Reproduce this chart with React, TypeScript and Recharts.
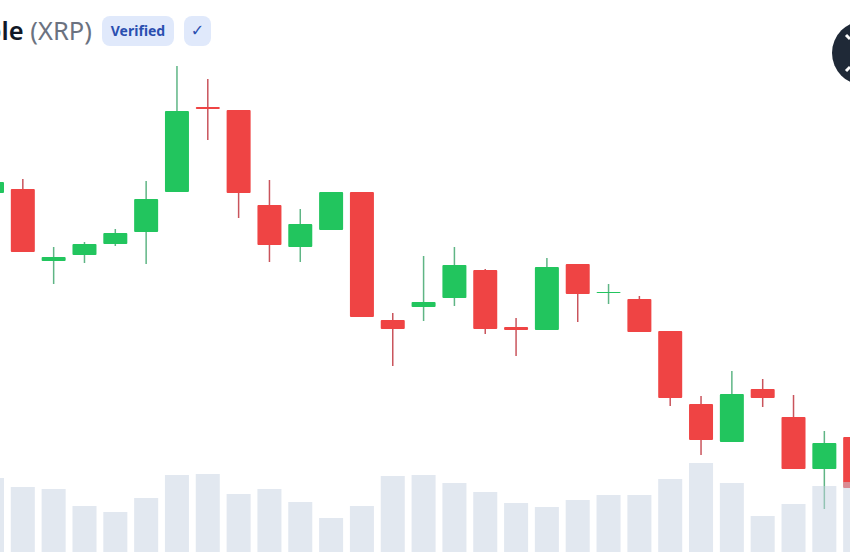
import React from 'react';
import { ComposedChart, Bar, XAxis, YAxis } from 'recharts';

// prices and volumes are read off the picture, no axis is shown in the original
const days = ['d1','d2','d3','d4','d5','d6','d7','d8','d9','d10','d11','d12','d13','d14','d15','d16','d17','d18','d19','d20','d21','d22','d23','d24','d25','d26','d27','d28','d29'];
const opens  = [359, 363, 291, 297, 308, 320, 360, 445, 442, 347, 305, 322, 360, 232, 245, 254, 282, 225, 222, 288, 259, 253, 221, 148, 110, 163, 135, 83, 115];
const closes = [370, 300, 295, 308, 319, 353, 441, 443, 359, 307, 328, 360, 235, 223, 250, 287, 223, 222, 285, 258, 260, 220, 154, 112, 158, 154, 83, 109, 64];
const highs  = [372, 373, 305, 310, 323, 371, 486, 473, 442, 372, 343, 360, 360, 239, 296, 305, 283, 234, 294, 288, 268, 256, 221, 156, 181, 173, 157, 121, 115];
const lows   = [355, 300, 268, 289, 306, 288, 360, 412, 334, 290, 290, 322, 235, 186, 231, 246, 218, 196, 222, 230, 248, 220, 146, 97, 110, 145, 83, 43, 64];
const volumes = [74, 65, 63, 46, 40, 54, 77, 78, 58, 63, 50, 34, 46, 76, 77, 69, 60, 49, 45, 52, 57, 57, 73, 89, 69, 36, 48, 66, 70];

const chartData = days.map((day, i) => ({
  day,
  open: opens[i],
  close: closes[i],
  range: [lows[i], highs[i]],
  volume: volumes[i],
}));

const GREEN = '#22c55e';
const RED = '#ef4444';
const GREEN_WICK = '#5fb585';
const RED_WICK = '#c9545c';

const Candle = (props: any) => {
  const { x, y, width, height, payload } = props;
  const up = payload.close >= payload.open;
  const [low, high] = payload.range;
  const perUnit = height / (high - low);
  const top = y + (high - Math.max(payload.open, payload.close)) * perUnit;
  const bottom = y + (high - Math.min(payload.open, payload.close)) * perUnit;
  const mid = x + width / 2;
  return (
    <g>
      <line x1={mid} x2={mid} y1={y} y2={y + height} stroke={up ? GREEN_WICK : RED_WICK} strokeWidth={1.5} />
      <rect x={x} y={top} width={width} height={Math.max(bottom - top, 1)} fill={up ? GREEN : RED} rx={1} />
    </g>
  );
};

export default function App() {
  return (
    <div style={{ position: 'absolute', left: 0, top: 0, width: 850, height: 560, overflow: 'hidden', background: '#fff' }}>
      <div style={{ position: 'absolute', left: -23, top: 0 }}>
        <ComposedChart
          width={894}
          height={560}
          data={chartData}
          margin={{ top: 0, right: 0, bottom: 8, left: 0 }}
        >
          <XAxis xAxisId="price" dataKey="day" hide />
          <XAxis xAxisId="volume" dataKey="day" hide />
          <YAxis yAxisId="price" domain={[0, 552]} hide />
          <YAxis yAxisId="volume" domain={[0, 552]} hide />
          <Bar xAxisId="price" yAxisId="price" dataKey="range" barSize={24} shape={<Candle />} isAnimationActive={false} />
          <Bar xAxisId="volume" yAxisId="volume" dataKey="volume" barSize={24} fill="#c5d1e1" fillOpacity={0.5} isAnimationActive={false} />
        </ComposedChart>
      </div>

      <div style={{ position: 'absolute', left: -54, top: 15, height: 30, lineHeight: '30px', fontFamily: '"Noto Sans", sans-serif', fontSize: 25.5, fontWeight: 600, color: '#111827', whiteSpace: 'nowrap' }}>
        Ripple <span style={{ fontWeight: 400, color: '#6b7280' }}>(XRP)</span>
      </div>
      <div style={{ position: 'absolute', left: 102, top: 16, width: 72, height: 30, borderRadius: 8, background: '#e0e9fb', color: '#2a4fb0', fontFamily: '"Noto Sans", sans-serif', fontSize: 14, fontWeight: 700, lineHeight: '30px', textAlign: 'center' }}>
        Verified
      </div>
      <div style={{ position: 'absolute', left: 184, top: 16, width: 27, height: 30, borderRadius: 8, background: '#e0e9fb', color: '#2a4fb0', fontFamily: '"DejaVu Sans", sans-serif', fontSize: 16, lineHeight: '30px', textAlign: 'center' }}>
        ✓
      </div>

      <svg style={{ position: 'absolute', left: 820, top: 10 }} width={30} height={85}>
        <circle cx={44} cy={43} r={32} fill="#1f2937" />
        <path d="M26 25 L30 29 M26 61 L30 57" stroke="#fff" strokeWidth={3} />
      </svg>
    </div>
  );
}
